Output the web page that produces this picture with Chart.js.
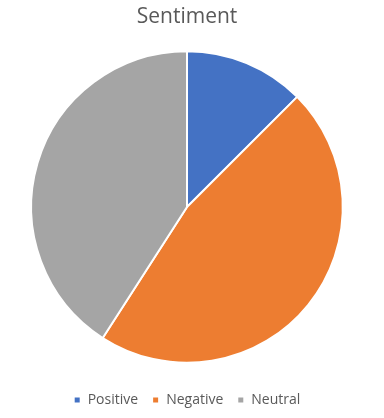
<!DOCTYPE html>
<html>
<head>
<meta charset="utf-8">
<script src="https://cdn.jsdelivr.net/npm/chart.js@4"></script>
<style>
  html, body { margin: 0; padding: 0; background: #fff; }
  #chart { display: block; }
</style>
</head>
<body>
<canvas id="chart" width="384" height="418"></canvas>
<script>
// Sentiment shares (percent)
const categories = ['Positive', 'Negative', 'Neutral'];
const shares = [12.5, 46.6, 40.9];
const sliceColors = ['#4472C4', '#ED7D31', '#A5A5A5'];

Chart.defaults.font.family = "'Open Sans', 'Noto Sans', sans-serif";
Chart.defaults.color = '#595959';

const ctx = document.getElementById('chart').getContext('2d');
new Chart(ctx, {
  type: 'pie',
  data: {
    labels: categories,
    datasets: [{
      data: shares,
      backgroundColor: sliceColors,
      borderColor: '#ffffff',
      borderWidth: 2
    }]
  },
  options: {
    responsive: false,
    animation: false,
    layout: {
      padding: { left: 0, right: 10, top: 0, bottom: 1 }
    },
    plugins: {
      title: {
        display: true,
        text: 'Sentiment',
        font: { size: 21, weight: 'normal' },
        color: '#595959',
        padding: { top: 4, bottom: 21 }
      },
      legend: {
        position: 'bottom',
        // empty legend title just adds a gap between pie and legend
        title: {
          display: true,
          text: ' ',
          font: { size: 1 },
          padding: 7
        },
        labels: {
          boxWidth: 7,
          boxHeight: 7,
          padding: 14,
          font: { size: 14 },
          color: '#595959'
        }
      },
      tooltip: { enabled: false }
    }
  }
});
</script>
</body>
</html>
